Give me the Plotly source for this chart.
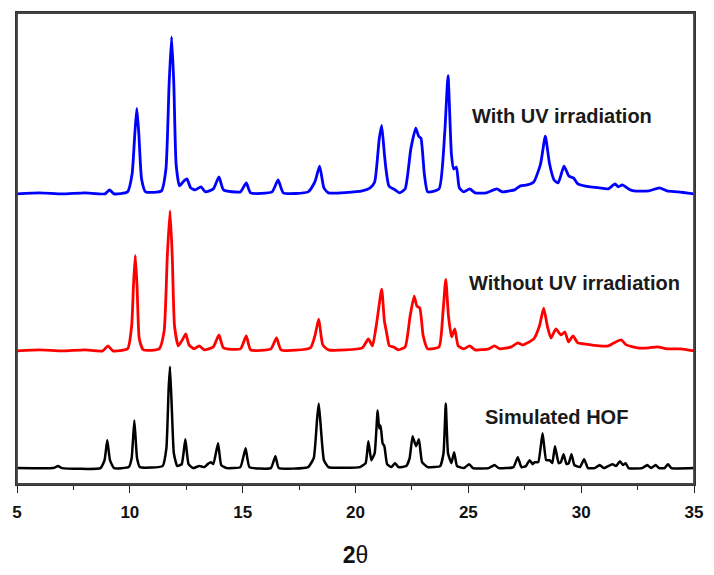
import plotly.graph_objects as go

# ---- data (2theta, intensity above each trace's baseline) ----
blue_x = [5.0, 6.0, 7.0, 8.0, 8.9, 9.1, 9.3, 9.9, 10.1, 10.22, 10.31, 10.4, 10.52, 10.7, 11.4, 11.6, 11.74, 11.85,
          11.95, 12.05, 12.2, 12.4, 12.53, 12.7, 12.9, 13.15, 13.35, 13.7, 13.95, 14.15, 14.9, 15.16, 15.35, 16.3,
          16.57, 16.8, 17.9, 18.2, 18.41, 18.6, 18.8, 20.3, 20.65, 20.85, 21.05, 21.16, 21.28, 21.35, 21.48, 21.75,
          21.95, 22.2, 22.45, 22.67, 22.8, 22.9, 23.05, 23.2, 23.7, 23.95, 24.10, 24.25, 24.35, 24.47, 24.6, 24.8,
          25.06, 25.3, 25.8, 26.26, 26.5, 26.82, 27.05, 27.31, 27.6, 27.9, 28.2, 28.41, 28.6, 28.8, 28.98, 29.24,
          29.45, 29.66, 29.85, 30.13, 30.8, 31.2, 31.5, 31.65, 31.82, 32.1, 32.33, 33.0, 33.47, 33.8, 34.3, 35.0]
blue_y = [0, 1, 0, 1, 0, 4, 0, 2, 20, 60, 86, 60, 15, 2, 3, 25, 110, 158,
          110, 30, 8, 13, 15, 6, 4, 7, 2, 5, 17, 4, 2, 11, 1, 2,
          14, 1, 2, 12, 28, 6, 1, 3, 6, 12, 55, 69, 40, 25, 8, 4,
          1, 5, 45, 66, 58, 56, 20, 2, 5, 60, 119, 40, 25, 27, 6, 2,
          5, 1, 1, 5, 2, 3, 4, 8, 9, 12, 30, 58, 30, 14, 11, 28,
          18, 16, 10, 8, 6, 5, 10, 7, 9, 5, 3, 3, 6, 3, 2, 0]

red_x = [5.0, 6.0, 7.0, 8.0, 8.8, 9.03, 9.25, 9.9, 10.08, 10.16, 10.24, 10.32, 10.42, 10.6, 11.3, 11.52, 11.66,
         11.78, 11.88, 11.98, 12.15, 12.35, 12.48, 12.62, 12.85, 13.07, 13.3, 13.7, 13.95, 14.15, 14.9, 15.16,
         15.35, 16.25, 16.5, 16.7, 18.0, 18.2, 18.37, 18.55, 18.8, 20.3, 20.57, 20.75, 20.95, 21.16, 21.28, 21.38,
         21.5, 21.68, 21.9, 22.2, 22.42, 22.6, 22.72, 22.85, 23.0, 23.2, 23.7, 23.88, 24.0, 24.12, 24.26, 24.4,
         24.55, 24.8, 25.06, 25.3, 25.9, 26.16, 26.4, 26.9, 27.19, 27.4, 27.9, 28.15, 28.34, 28.5, 28.66, 28.88,
         29.1, 29.28, 29.44, 29.64, 29.85, 30.12, 30.8, 31.2, 31.45, 31.77, 32.0, 32.5, 33.0, 33.37, 33.8, 34.4, 35.0]
red_y = [0, 1, 0, 1, 0, 5, 0, 2, 25, 65, 96, 65, 12, 1, 2, 20, 95,
         141, 95, 25, 5, 12, 17, 6, 2, 5, 1, 4, 16, 3, 2, 15,
         1, 2, 13, 1, 3, 15, 32, 6, 1, 3, 12, 5, 30, 62, 30, 18,
         5, 4, 1, 4, 35, 55, 45, 43, 15, 2, 4, 40, 72, 35, 14, 22,
         5, 2, 5, 1, 2, 5, 2, 4, 8, 6, 12, 25, 43, 25, 13, 22,
         16, 19, 9, 15, 8, 7, 5, 5, 8, 11, 6, 3, 3, 4, 2, 2, 0]

black_x = [5.0, 6.6, 6.82, 7.0, 8.7, 8.88, 9.0, 9.12, 9.3, 9.95, 10.08, 10.2, 10.32, 10.45, 11.45, 11.62, 11.72,
           11.78, 11.86, 11.95, 12.1, 12.3, 12.46, 12.6, 12.8, 13.07, 13.3, 13.45, 13.59, 13.7, 13.91, 14.05, 14.3,
           14.9, 15.13, 15.3, 16.25, 16.45, 16.6, 17.9, 18.15, 18.3, 18.37, 18.45, 18.6, 18.8, 20.2, 20.45, 20.57,
           20.7, 20.85, 20.98, 21.05, 21.11, 21.2, 21.28, 21.4, 21.6, 21.75, 21.9, 22.25, 22.4, 22.53, 22.68, 22.81,
           22.95, 23.2, 23.75, 23.9, 24.0, 24.1, 24.25, 24.37, 24.5, 24.8, 25.04, 25.2, 25.9, 26.16, 26.35, 27.0,
           27.19, 27.35, 27.55, 27.72, 27.85, 27.94, 28.1, 28.29, 28.45, 28.6, 28.72, 28.84, 29.0, 29.1, 29.22,
           29.35, 29.45, 29.57, 29.7, 29.95, 30.13, 30.3, 30.6, 30.82, 31.0, 31.38, 31.55, 31.72, 31.85, 31.97,
           32.1, 32.7, 32.93, 33.1, 33.3, 33.45, 33.7, 33.85, 34.0, 35.0]
black_y = [0, 0, 2, 0, 0, 8, 28, 8, 0, 1, 10, 48, 10, 1, 2, 20, 80,
           102, 60, 15, 2, 4, 29, 4, 0, 2, 1, 4, 6, 4, 25, 3, 0,
           1, 20, 1, 0, 12, 0, 1, 10, 50, 65, 45, 8, 1, 1, 5, 27,
           8, 15, 58, 40, 43, 25, 22, 4, 1, 5, 1, 2, 10, 32, 22, 29,
           6, 1, 2, 15, 65, 15, 5, 16, 2, 0, 4, 0, 0, 3, 0, 1,
           11, 1, 2, 8, 4, 6, 6, 35, 8, 8, 5, 22, 5, 6, 14,
           4, 5, 14, 3, 1, 9, 0, 0, 3, 0, 4, 2, 7, 3, 5,
           0, 0, 3, 0, 3, 0, 0, 4, 0, 0]

labels = ["With UV irradiation", "Without UV irradiation", "Simulated HOF"]
x_ticks = [5, 10, 15, 20, 25, 30, 35]

# vertical stacking offsets
offsets = {"blue": 292, "red": 134, "black": 16}

fig = go.Figure()
fig.add_trace(go.Scatter(x=black_x, y=[v + offsets["black"] for v in black_y], mode="lines",
                         line=dict(color="black", width=2.5, shape="spline", smoothing=0.4), hoverinfo="skip"))
fig.add_trace(go.Scatter(x=red_x, y=[v + offsets["red"] for v in red_y], mode="lines",
                         line=dict(color="#ff0000", width=2.8, shape="spline", smoothing=0.5), hoverinfo="skip"))
fig.add_trace(go.Scatter(x=blue_x, y=[v + offsets["blue"] for v in blue_y], mode="lines",
                         line=dict(color="#0000ff", width=2.8, shape="spline", smoothing=0.5), hoverinfo="skip"))

lab_font = dict(family="Liberation Sans, Arial, sans-serif", size=20, color="#1a1a1a")
for text, (lx, ly) in zip(labels, [(29.17, 370), (29.7, 202), (28.9, 67)]):
    fig.add_annotation(x=lx, y=ly, text=f"<b>{text}</b>", showarrow=False, font=lab_font,
                       xanchor="center", yanchor="middle")

# plot frame
fig.add_shape(type="rect", xref="paper", yref="paper", x0=0, x1=1, y0=0, y1=1,
              line=dict(color="#444", width=1.8), fillcolor="rgba(0,0,0,0)", layer="above")

fig.update_layout(
    width=714, height=575,
    margin=dict(l=17, r=17, t=11, b=90),
    paper_bgcolor="white", plot_bgcolor="white",
    showlegend=False,
    xaxis=dict(range=[5, 35], tickvals=x_ticks, ticktext=[f"<b>{t}</b>" for t in x_ticks],
               ticks="outside", ticklen=7, tickwidth=1.3, tickcolor="#222",
               minor=dict(ticks="outside", ticklen=4, tickwidth=1.3, tickcolor="#222", dtick=2.5),
               showgrid=False, zeroline=False, showline=True, linecolor="#333", linewidth=1.5, mirror=True,
               ticklabelstandoff=5,
               tickfont=dict(family="Liberation Sans, Arial, sans-serif", size=17, color="#111"),
               title=dict(text="<b>2</b>θ", font=dict(family="Liberation Sans, Arial, sans-serif", size=23, color="#111"),
                          standoff=26)),
    yaxis=dict(range=[0, 474], showticklabels=False, ticks="", showgrid=False, zeroline=False,
               showline=True, linecolor="#333", linewidth=1.5, mirror=True),
)

fig.write_html("out.html", config={"displayModeBar": False},
               post_script="document.body.style.margin='0';document.body.style.overflow='hidden';")
